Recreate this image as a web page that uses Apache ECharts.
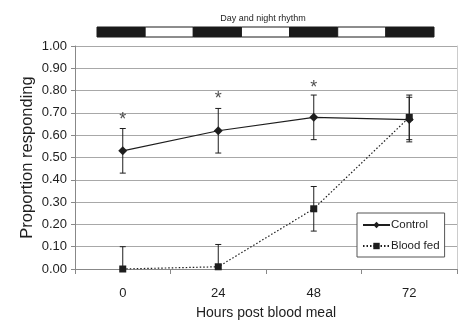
<!DOCTYPE html>
<html><head><meta charset="utf-8">
<script src="https://cdn.jsdelivr.net/npm/echarts@6/dist/echarts.min.js"></script>
<style>html,body{margin:0;padding:0;background:#fff}#c{width:470px;height:335px}</style>
</head><body><div id="c"></div>
<script>
var categories = ['0', '24', '48', '72'];
var yTicks = ['0.00','0.10','0.20','0.30','0.40','0.50','0.60','0.70','0.80','0.90','1.00'];
var controlValues = [0.53, 0.62, 0.68, 0.67];
var controlErr = [0.10, 0.10, 0.10, 0.10];
var bloodFedValues = [0.00, 0.01, 0.27, 0.68];
var bloodFedErr = [0.10, 0.10, 0.10, 0.10];
var asteriskY = [0.67, 0.76, 0.81];
var rhythmPhases = ['night','day','night','day','night','day','night'];

var FONT = '"Liberation Sans", Arial, sans-serif';
var INK = '#1e1e1e';

function errData(vals, errs) {
  return vals.map(function (v, i) { return [i, Math.max(0, v - errs[i]), v + errs[i]]; });
}
function errRender(params, api) {
  var x = api.value(0);
  var lo = api.coord([x, api.value(1)]);
  var hi = api.coord([x, api.value(2)]);
  var cap = 3;
  var st = { stroke: INK, lineWidth: 1 };
  return { type: 'group', children: [
    { type: 'line', shape: { x1: lo[0], y1: lo[1], x2: hi[0], y2: hi[1] }, style: st },
    { type: 'line', shape: { x1: hi[0] - cap, y1: hi[1], x2: hi[0] + cap, y2: hi[1] }, style: st },
    { type: 'line', shape: { x1: lo[0] - cap, y1: lo[1], x2: lo[0] + cap, y2: lo[1] }, style: st }
  ]};
}

var chart = echarts.init(document.getElementById('c'));
chart.setOption({
  animation: false,
  backgroundColor: '#fff',
  title: { text: 'Day and night rhythm', left: 258, top: 9, textAlign: 'center',
    textStyle: { fontFamily: FONT, fontSize: 9, fontWeight: 'normal', color: INK } },
  legend: {
    left: 357, top: 213, orient: 'vertical', itemGap: 9,
    padding: [6, 5, 5, 5],
    borderColor: '#555', borderWidth: 1, backgroundColor: '#fff',
    itemWidth: 27, itemHeight: 8,
    textStyle: { fontFamily: FONT, fontSize: 11.5, color: INK, padding: [0, 0, 0, -4] },
    data: ['Control', 'Blood fed']
  },
  grid: [
    { left: 75, right: 13, top: 46, bottom: 66 },
    { left: 97, width: 337, top: 27, height: 10 }
  ],
  xAxis: [
    { type: 'category', data: categories, gridIndex: 0, boundaryGap: true,
      name: 'Hours post blood meal', nameLocation: 'middle', nameGap: 37,
      nameMoveOverlap: false,
      nameTextStyle: { fontFamily: FONT, fontSize: 14, color: INK },
      axisLine: { lineStyle: { color: '#888' } },
      axisTick: { show: true, length: 5, alignWithLabel: false, lineStyle: { color: '#888' } },
      axisLabel: { fontFamily: FONT, fontSize: 13, color: INK, margin: 18 },
      splitLine: { show: false } },
    { type: 'value', gridIndex: 1, min: 0, max: 7, show: false }
  ],
  yAxis: [
    { type: 'value', gridIndex: 0, min: 0, max: 1, interval: 0.1,
      name: 'Proportion responding', nameLocation: 'middle', nameGap: 39,
      nameMoveOverlap: false,
      nameTextStyle: { fontFamily: FONT, fontSize: 16.5, color: INK },
      axisLine: { show: true, lineStyle: { color: '#888' } },
      axisTick: { show: true, length: 4, lineStyle: { color: '#888' } },
      axisLabel: { fontFamily: FONT, fontSize: 13, color: INK, margin: 8,
        formatter: function (v) { return yTicks[Math.round(v * 10)]; } },
      splitLine: { show: true, lineStyle: { color: '#a8a8a8', width: 1 } } },
    { type: 'value', gridIndex: 0, min: 0, max: 1, position: 'right',
      axisLine: { show: true, lineStyle: { color: '#ccc' } },
      axisTick: { show: false }, axisLabel: { show: false }, splitLine: { show: false } },
    { type: 'category', gridIndex: 1, data: ['r'], show: false }
  ],
  series: [
    { name: 'Control', type: 'line', data: controlValues, xAxisIndex: 0, yAxisIndex: 0,
      symbol: 'diamond', symbolSize: 9, z: 5,
      lineStyle: { color: INK, width: 1.2 }, itemStyle: { color: INK } },
    { name: 'Blood fed', type: 'line', data: bloodFedValues, xAxisIndex: 0, yAxisIndex: 0,
      symbol: 'rect', symbolSize: 7, z: 5,
      lineStyle: { color: INK, width: 1.2, type: [1.5, 2] }, itemStyle: { color: INK } },
    { type: 'custom', xAxisIndex: 0, yAxisIndex: 0, renderItem: errRender,
      data: errData(controlValues, controlErr), z: 4, silent: true },
    { type: 'custom', xAxisIndex: 0, yAxisIndex: 0, renderItem: errRender,
      data: errData(bloodFedValues, bloodFedErr), z: 4, silent: true },
    { type: 'scatter', xAxisIndex: 0, yAxisIndex: 0, symbolSize: 0, silent: true,
      data: asteriskY.map(function (v, i) { return [i, v]; }),
      label: { show: true, position: 'inside', formatter: '*',
        fontFamily: FONT, fontSize: 18, color: INK } },
    { type: 'custom', xAxisIndex: 1, yAxisIndex: 2, silent: true,
      data: rhythmPhases.map(function (p, i) { return [i, p]; }),
      renderItem: function (params, api) {
        var i = api.value(0);
        var a = api.coord([i, 0]);
        var b = api.coord([i + 1, 0]);
        var night = rhythmPhases[params.dataIndex] === 'night';
        return { type: 'rect',
          shape: { x: a[0], y: a[1] - 5, width: b[0] - a[0], height: 10 },
          style: { fill: night ? '#1a1a1a' : '#fff', stroke: '#1a1a1a', lineWidth: 1 } };
      } }
  ]
});
</script></body></html>
